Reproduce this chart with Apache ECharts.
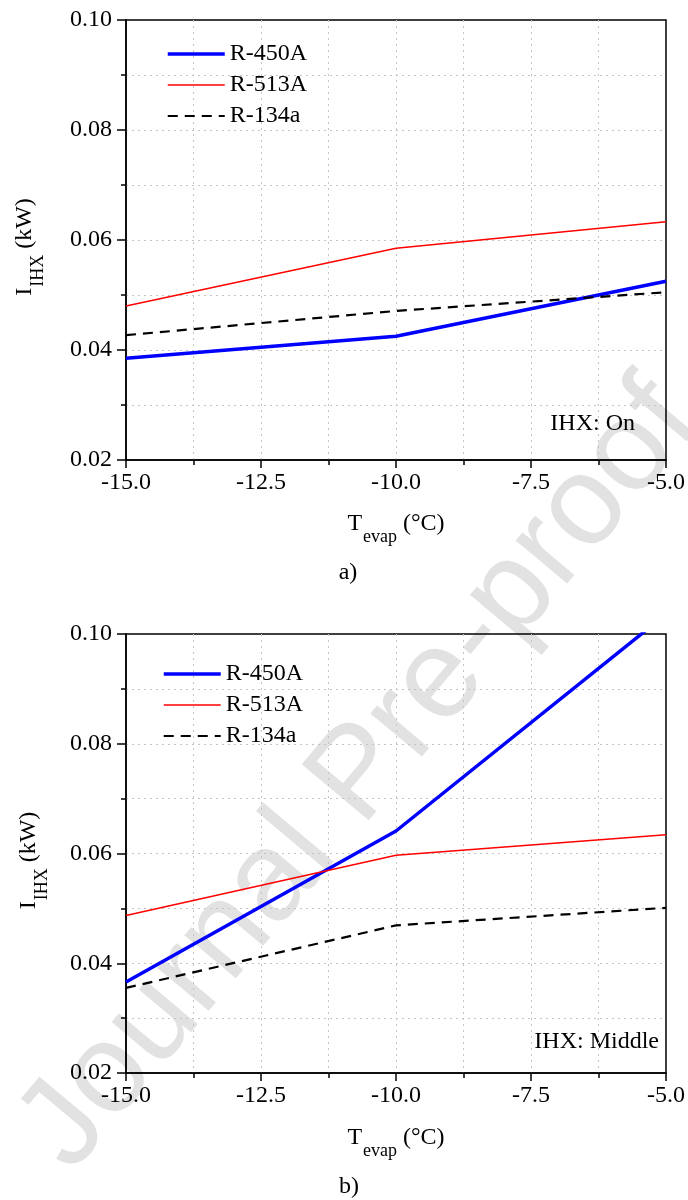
<!DOCTYPE html>
<html>
<head>
<meta charset="utf-8">
<script src="https://cdn.jsdelivr.net/npm/echarts@6/dist/echarts.min.js"></script>
<style>
  html, body { margin: 0; padding: 0; background: #fff; }
  #chart { width: 688px; height: 1200px; }
</style>
</head>
<body>
<div id="chart"></div>
<script>
// Evaporating temperature (°C)
const temps = [-15, -10, -5];
// IHX irreversibility (kW), IHX placed "On"
const onR450A = [0.0385, 0.0425, 0.0525];
const onR513A = [0.0480, 0.0585, 0.0633];
const onR134a = [0.0427, 0.0471, 0.0505];
// IHX irreversibility (kW), IHX placed "Middle"
const midR450A = [0.0366, 0.0641, 0.1036];
const midR513A = [0.0487, 0.0597, 0.0634];
const midR134a = [0.0355, 0.0469, 0.0501];

const seriesNames = ['R-450A', 'R-513A', 'R-134a'];
const panelTags = ['a)', 'b)'];
const panelNotes = ['IHX: On', 'IHX: Middle'];

const FONT = '"Liberation Serif", "Times New Roman", serif';
const pairs = (ys) => temps.map((t, i) => [t, ys[i]]);

const gridLine = { show: true, showMinLine: false, showMaxLine: false,
  lineStyle: { color: '#c4c4c4', type: [2, 4], width: 1 } };

const subRich = {
  m: { fontFamily: FONT, fontSize: 24, color: '#000', lineHeight: 24, verticalAlign: 'top' },
  s: { fontFamily: FONT, fontSize: 18, color: '#000', lineHeight: 18, verticalAlign: 'top', padding: [16, 0, 0, 1] }
};

function xAxisFor(idx, gap) {
  return {
    gridIndex: idx, type: 'value', min: -15, max: -5, interval: 2.5,
    axisLine: { show: true, onZero: false, lineStyle: { color: '#000', width: 1.5 } },
    axisTick: { show: true, inside: false, length: 8, lineStyle: { color: '#000', width: 1.5 } },
    minorTick: { show: true, splitNumber: 2, length: 5, lineStyle: { color: '#000', width: 1.5 } },
    splitLine: gridLine, minorSplitLine: gridLine,
    axisLabel: { fontFamily: FONT, fontSize: 24, color: '#000', margin: 11,
      formatter: (v) => v.toFixed(1) },
    name: '{m|T}{s|evap}{m| (°C)}', nameLocation: 'middle', nameGap: gap,
    nameTextStyle: { rich: subRich }
  };
}

function yAxisFor(idx, gap) {
  return {
    gridIndex: idx, type: 'value', min: 0.02, max: 0.10, interval: 0.02,
    axisLine: { show: true, onZero: false, lineStyle: { color: '#000', width: 1.5 } },
    axisTick: { show: true, inside: false, length: 9, lineStyle: { color: '#000', width: 1.5 } },
    minorTick: { show: true, splitNumber: 2, length: 5, lineStyle: { color: '#000', width: 1.5 } },
    splitLine: gridLine, minorSplitLine: gridLine,
    axisLabel: { fontFamily: FONT, fontSize: 24, color: '#000', margin: 14,
      formatter: (v) => v.toFixed(2) },
    name: '{m|I}{s|IHX}{m| (kW)}', nameLocation: 'middle', nameGap: gap, nameRotate: 90,
    nameTextStyle: { rich: subRich, padding: [0, 14, 0, 0] }
  };
}

const styles = [
  { color: '#0000ff', width: 3.5, type: 'solid' },
  { color: '#ff0000', width: 1.5, type: 'solid' },
  { color: '#000000', width: 2.2, type: [10, 7] }
];

function linesFor(idx, sets) {
  return sets.map((ys, k) => ({
    name: seriesNames[k], type: 'line', xAxisIndex: idx, yAxisIndex: idx,
    data: pairs(ys), symbol: 'none', clip: true, z: 3,
    itemStyle: { color: styles[k].color },
    lineStyle: { color: styles[k].color, width: styles[k].width, type: styles[k].type }
  }));
}

function legendFor(left, top) {
  return {
    orient: 'vertical', left: left, top: top, padding: 0,
    data: seriesNames.map((n, k) => ({
      name: n,
      lineStyle: { width: styles[k].width, type: styles[k].type, color: styles[k].color }
    })),
    itemWidth: 57, itemHeight: 1, itemGap: 7, selectedMode: false,
    itemStyle: { opacity: 0 },
    textStyle: { fontFamily: FONT, fontSize: 24, color: '#000' }
  };
}

const chart = echarts.init(document.getElementById('chart'), null, { renderer: 'canvas' });
chart.setOption({
  backgroundColor: '#fff',
  animation: false,
  grid: [
    { left: 126, width: 540, top: 20, height: 440, show: true, borderColor: '#000', borderWidth: 1.5, backgroundColor: 'transparent' },
    { left: 126, width: 540, top: 634, height: 439, show: true, borderColor: '#000', borderWidth: 1.5, backgroundColor: 'transparent' }
  ],
  xAxis: [xAxisFor(0, 52), xAxisFor(1, 53)],
  yAxis: [yAxisFor(0, 89), yAxisFor(1, 85)],
  legend: [legendFor(166, 42), legendFor(162, 662)],
  series: [].concat(
    linesFor(0, [onR450A, onR513A, onR134a]),
    linesFor(1, [midR450A, midR513A, midR134a])
  ),
  graphic: [
    { type: 'text', z: -10, x: 360, y: 776, rotation: 50 * Math.PI / 180, silent: true,
      style: { text: 'Journal Pre-proof', font: '127px "Liberation Sans", Arial, sans-serif',
        fill: '#e2e2e2', align: 'center', verticalAlign: 'middle' } },
    { type: 'text', x: 635, y: 424, style: { text: panelNotes[0], font: '24px ' + FONT, fill: '#000', align: 'right', verticalAlign: 'middle' } },
    { type: 'text', x: 659, y: 1042, style: { text: panelNotes[1], font: '24px ' + FONT, fill: '#000', align: 'right', verticalAlign: 'middle' } },
    { type: 'text', x: 348, y: 573, style: { text: panelTags[0], font: '24px ' + FONT, fill: '#000', align: 'center', verticalAlign: 'middle' } },
    { type: 'text', x: 349, y: 1187, style: { text: panelTags[1], font: '24px ' + FONT, fill: '#000', align: 'center', verticalAlign: 'middle' } }
  ]
});
</script>
</body>
</html>
